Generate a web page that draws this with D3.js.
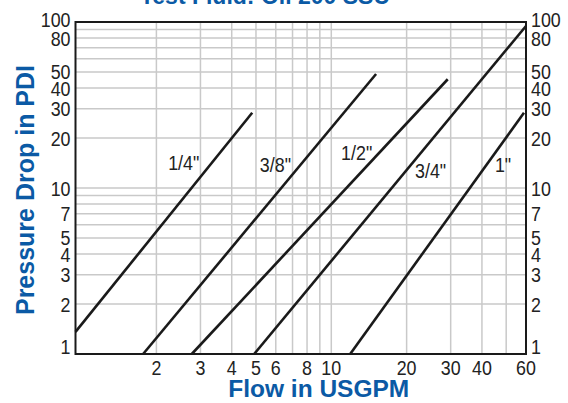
<!DOCTYPE html>
<html>
<head>
<meta charset="utf-8">
<script src="https://cdn.jsdelivr.net/npm/d3@7"></script>
<style>
    body { margin: 0; background: #fff; }
    svg { display: block; }
    .tick-label { font-family: "Liberation Sans", Arial, sans-serif; font-size: 21px; fill: #222; }
    .axis-title { font-family: "Liberation Sans", Arial, sans-serif; font-weight: bold; fill: #0b5aa5; }
</style>
</head>
<body>
<div id="chart"></div>
<script>
// hose sizes and their pressure drop lines (flow in USGPM, drop in PDI)
const sizes = ['1/4"', '3/8"', '1/2"', '3/4"', '1"'];
const flowStart = [0.95, 1.77, 2.77, 4.92, 11.9];
const dropStart = [1.36, 1, 1, 1, 1];
const flowEnd = [4.83, 15.1, 29.2, 60, 58.9];
const dropEnd = [28.4, 48.6, 45.2, 94.6, 28.4];

const xTickLabels = [2, 3, 4, 5, 6, 8, 10, 20, 30, 40, 60];
const yTickLabels = [1, 2, 3, 4, 5, 7, 10, 20, 30, 40, 50, 80, 100];
const xGridValues = [2, 3, 4, 5, 6, 7, 8, 9, 10, 20, 30, 40, 50];
const yGridValues = [2, 3, 4, 5, 6, 7, 8, 9, 10, 20, 30, 40, 50, 60, 70, 80, 90];

const width = 568,
    height = 403
const plot = { left: 75.5, right: 526, top: 22, bottom: 354 }
// the chart's numbers are set in a condensed face, squeeze the regular one
const squeeze = 0.85

const svg = d3.select('#chart')
    .append('svg')
    .attr('width', width)
    .attr('height', height)

const x = d3.scaleLog().domain([0.95, 60]).range([plot.left, plot.right])
const y = d3.scaleLog().domain([1, 100]).range([plot.bottom, plot.top])

// grid
svg.append('g')
    .selectAll('line')
    .data(xGridValues)
    .enter()
    .append('line')
    .attr('x1', d => x(d)).attr('x2', d => x(d))
    .attr('y1', plot.top).attr('y2', plot.bottom)
    .attr('stroke', '#c9c9c9')
    .attr('stroke-width', 1.5)
svg.append('g')
    .selectAll('line')
    .data(yGridValues)
    .enter()
    .append('line')
    .attr('y1', d => y(d)).attr('y2', d => y(d))
    .attr('x1', plot.left).attr('x2', plot.right)
    .attr('stroke', '#c9c9c9')
    .attr('stroke-width', 1.5)

// frame
svg.append('rect')
    .attr('x', plot.left).attr('y', plot.top)
    .attr('width', plot.right - plot.left)
    .attr('height', plot.bottom - plot.top)
    .attr('fill', 'none')
    .attr('stroke', '#1a1a1a')
    .attr('stroke-width', 2)

const placeAt = (fx, fy) => (d, i) => `translate(${fx(d, i)},${fy(d, i)}) scale(${squeeze},1)`

// tick labels
svg.append('g')
    .selectAll('text')
    .data(xTickLabels)
    .enter()
    .append('text')
    .attr('class', 'tick-label')
    .attr('transform', placeAt(d => x(d), () => plot.bottom + 21))
    .attr('text-anchor', 'middle')
    .text(d => d)

// the bottom label sits on the axis, the top one a bit above its line
const yLabelShift = d => d === 1 ? -7.5 : d === 100 ? -3 : 0
const yAxisLabels = (xPos, anchor) => svg.append('g')
    .selectAll('text')
    .data(yTickLabels)
    .enter()
    .append('text')
    .attr('class', 'tick-label')
    .attr('transform', placeAt(() => xPos, d => y(d) + 7.5 + yLabelShift(d)))
    .attr('text-anchor', anchor)
    .text(d => d)
yAxisLabels(plot.left - 5, 'end')
yAxisLabels(plot.right + 5, 'start')

// pressure drop lines
const lines = sizes.map((name, i) => ({
    name,
    points: [[flowStart[i], dropStart[i]], [flowEnd[i], dropEnd[i]]]
}))
const lineGen = d3.line().x(d => x(d[0])).y(d => y(d[1]))
svg.append('g')
    .selectAll('path')
    .data(lines)
    .enter()
    .append('path')
    .attr('d', d => lineGen(d.points))
    .attr('fill', 'none')
    .attr('stroke', '#1a1a1a')
    .attr('stroke-width', 2.6)

// size labels beside each line: drop level where the label sits, side and gap
const labelSpots = [
    { drop: 14.3, side: 'left', gap: 13 },
    { drop: 13.9, side: 'left', gap: 10 },
    { drop: 16.3, side: 'left', gap: 7 },
    { drop: 12.7, side: 'right', gap: 9 },
    { drop: 13.9, side: 'right', gap: 8 }
]
const flowAtDrop = (line, p) => {
    const [[f0, p0], [f1, p1]] = line.points
    const t = (Math.log(p) - Math.log(p0)) / (Math.log(p1) - Math.log(p0))
    return Math.exp(Math.log(f0) + t * (Math.log(f1) - Math.log(f0)))
}
svg.append('g')
    .selectAll('text')
    .data(lines)
    .enter()
    .append('text')
    .attr('class', 'tick-label')
    .attr('transform', placeAt((d, i) => {
        const s = labelSpots[i]
        const px = x(flowAtDrop(d, s.drop))
        return s.side === 'left' ? px - s.gap : px + s.gap
    }, (d, i) => y(labelSpots[i].drop) + 7.5))
    .attr('text-anchor', (d, i) => labelSpots[i].side === 'left' ? 'end' : 'start')
    .text(d => d.name)

// titles
svg.append('text')
    .attr('class', 'axis-title')
    .attr('x', 265)
    .attr('y', 4)
    .attr('text-anchor', 'middle')
    .style('font-size', '23px')
    .text('Test Fluid: Oil 200 SSU')
svg.append('text')
    .attr('class', 'axis-title')
    .attr('x', (plot.left + plot.right) / 2 + 18)
    .attr('y', 397)
    .attr('text-anchor', 'middle')
    .style('font-size', '24.5px')
    .text('Flow in USGPM')
svg.append('text')
    .attr('class', 'axis-title')
    .attr('transform', 'translate(34,190) rotate(-90)')
    .attr('text-anchor', 'middle')
    .style('font-size', '25px')
    .text('Pressure Drop in PDI')
</script>
</body>
</html>
